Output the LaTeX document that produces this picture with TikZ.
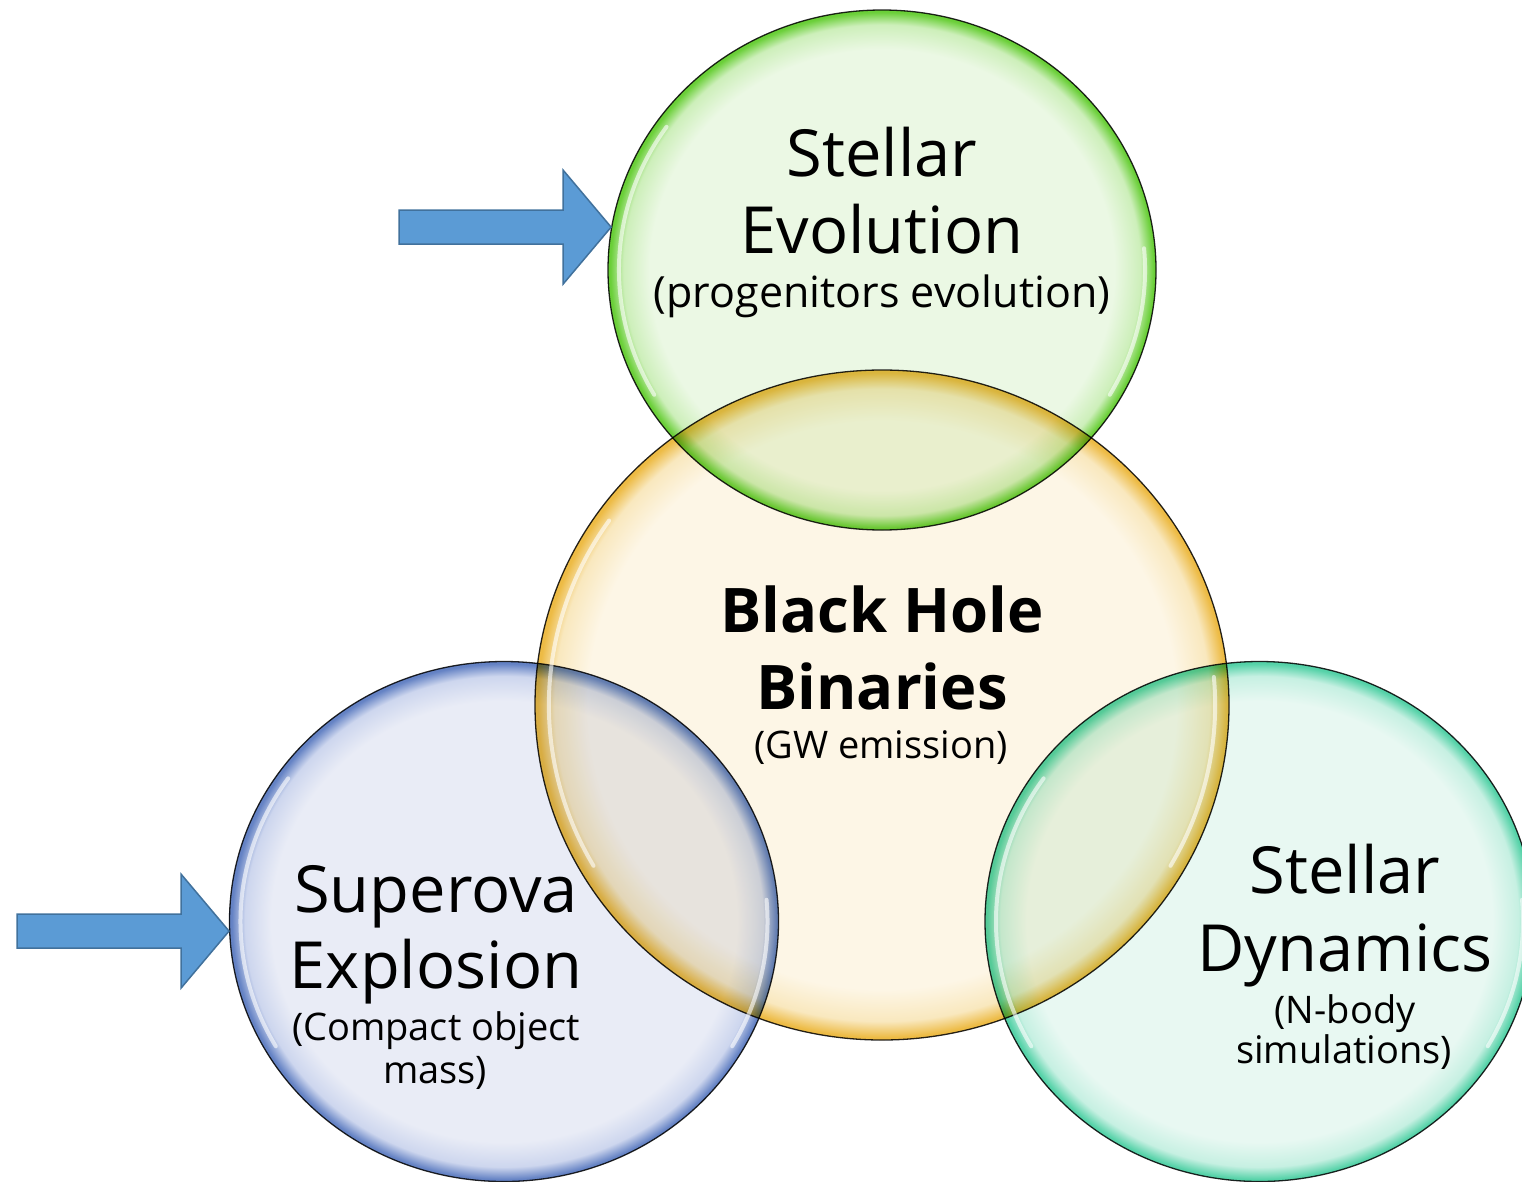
\documentclass[tikz,border=0pt]{standalone}
\usepackage{fontspec}
\setmainfont{Open Sans}
\usetikzlibrary{shapes.geometric}

\definecolor{arrowfill}{HTML}{5B9BD5}
\definecolor{arrowline}{HTML}{41719C}
% circle colours: inside, ring, rim
\definecolor{evoin}{HTML}{EBF8E4}
\definecolor{evomid}{HTML}{CDEFBA}
\definecolor{evorim}{HTML}{6ACF38}
\definecolor{bhbin}{HTML}{FDF6E6}
\definecolor{bhbmid}{HTML}{F9E8BE}
\definecolor{bhbrim}{HTML}{EDBB45}
\definecolor{snin}{HTML}{E9ECF6}
\definecolor{snmid}{HTML}{CDD6EE}
\definecolor{snrim}{HTML}{6482C4}
\definecolor{dynin}{HTML}{E8F8F2}
\definecolor{dynmid}{HTML}{C6F0E2}
\definecolor{dynrim}{HTML}{55D2A8}

\newcommand{\glow}[1]{
  \pgfdeclareradialshading{#1glow}{\pgfpoint{0bp}{0bp}}{%
    color(0bp)=(#1in); color(21.2bp)=(#1in); color(23.6bp)=(#1mid);
    color(24.8bp)=(#1rim); color(25bp)=(#1rim); color(50bp)=(#1rim)}
}
\glow{evo}\glow{bhb}\glow{sn}\glow{dyn}

% white shine on the left and lower right of a circle
\newcommand{\gloss}[3]{
  \draw[gloss] (#1.center) ++(150:0.96*#2 and 0.96*#3)
     arc[start angle=150, end angle=215, x radius=0.96*#2, y radius=0.96*#3];
  \draw[gloss] (#1.center) ++(-5:0.96*#2 and 0.96*#3)
     arc[start angle=-5, end angle=30, x radius=0.96*#2, y radius=0.96*#3];
}
% block arrow, drawn back from its tip
\newcommand{\blockarrow}[1]{
  \draw[arrowbox] (#1) -- ++(-48,-57) -- ++(0,40) -- ++(-164,0)
     -- ++(0,34) -- ++(164,0) -- ++(0,40) -- cycle;
}

\tikzset{
  venn/.style={ellipse, draw=black!85, line width=1.3pt, shade, inner sep=0pt},
  headline/.style={anchor=base, font=\fontsize{65}{77}\selectfont},
  boldline/.style={anchor=base, font=\fontsize{61.5}{77}\selectfont\bfseries},
  subline/.style={anchor=base, font=\fontsize{38}{44}\selectfont},
  bigsubline/.style={anchor=base, font=\fontsize{43}{48}\selectfont},
  arrowbox/.style={fill=arrowfill, draw=arrowline, line width=1.5pt, line join=miter},
  gloss/.style={white, line width=4pt, line cap=round, opacity=0.6}
}

\begin{document}
\begin{tikzpicture}[x=1pt,y=-1pt]
  \useasboundingbox (0,0) rectangle (1522,1181);
  \clip (0,0) rectangle (1522,1181);

  \begin{scope}[blend mode=multiply]
    \node[venn, shading=bhbglow, minimum width=694pt, minimum height=670pt] (bhb) at (882,705) {};
    \node[venn, shading=evoglow, minimum width=548pt, minimum height=520pt] (evo) at (882,270) {};
    \node[venn, shading=snglow,  minimum width=549pt, minimum height=520pt] (sn)  at (504,921.5) {};
    \node[venn, shading=dynglow, minimum width=549pt, minimum height=520pt] (dyn) at (1259.5,921.5) {};
  \end{scope}

  \gloss{bhb}{347}{335}
  \gloss{evo}{274}{260}
  \gloss{sn}{274.5}{260}
  \gloss{dyn}{274.5}{260}

  \blockarrow{evo.171}
  \blockarrow{sn.182}

  % Stellar Evolution
  \node[headline]   (evo1) at (882,176) {Stellar};
  \node[headline]   (evo2) at (882,253) {Evolution};
  \node[bigsubline] (evo3) at (882,307) {(progenitors evolution)};

  % Black Hole Binaries
  \node[boldline] (bhb1) at (882,632) {Black Hole};
  \node[boldline] (bhb2) at (882,709) {Binaries};
  \node[subline]  (bhb3) at (881,758) {(GW emission)};

  % Supernova
  \node[headline] (sn1) at (436,912) {Superova};
  \node[headline] (sn2) at (436,988) {Explosion};
  \node[subline]  (sn3) at (436,1040) {(Compact object};
  \node[subline]  (sn4) at (435,1083) {mass)};

  % Stellar Dynamics
  \node[headline] (dyn1) at (1345,893) {Stellar};
  \node[headline] (dyn2) at (1345,971) {Dynamics};
  \node[subline]  (dyn3) at (1345,1023) {(N-body};
  \node[subline]  (dyn4) at (1344,1063) {simulations)};
\end{tikzpicture}
\end{document}
